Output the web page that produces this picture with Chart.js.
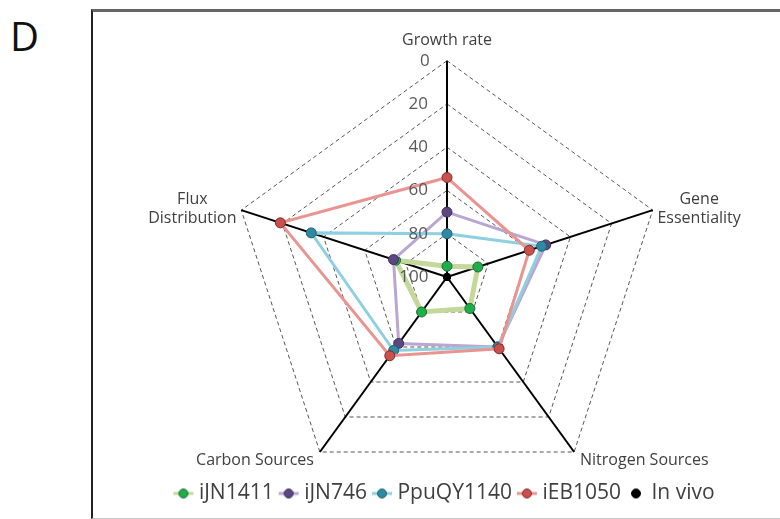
<!DOCTYPE html>
<html>
<head>
<meta charset="utf-8">
<script src="https://cdn.jsdelivr.net/npm/chart.js@4"></script>
<style>
  body { margin: 0; background: #fff; }
  #wrap { position: relative; width: 780px; height: 519px; overflow: hidden; }
  #frame { position: absolute; left: 91px; top: 9px; width: 720px; height: 506px;
           border-left: 2px solid #222; border-top: 3px solid #666; border-bottom: 1px solid #c8c8c8; }
  #panel { position: absolute; left: 10px; top: 8px; font: 40px "Open Sans", sans-serif; color: #111; }
  canvas { position: absolute; left: 0; top: 0; }
</style>
</head>
<body>
<div id="wrap">
  <div id="frame"></div>
  <div id="panel">D</div>
  <canvas id="radar" width="780" height="519"></canvas>
</div>
<script>
// axes of the radar (clockwise from top)
const categories = ["Growth rate", ["Gene", "Essentiality"], "Nitrogen Sources", "Carbon Sources", ["Flux", "Distribution"]];
const tickValues = [0, 20, 40, 60, 80, 100];

// model scores (scale is reversed: 100 sits in the centre)
const iJN1411 = [95, 85, 82, 80, 75];
const iJN746 = [70, 52, 60, 62, 74];
const PpuQY1140 = [80, 54, 60, 58, 34];
const iEB1050 = [54, 60, 59, 55, 19];
const inVivo = [100, 100, 100, 100, 100];

// little legend icons: a short line with a dot on it
function legendIcon(lineColor, fill, stroke) {
    let c = document.createElement("canvas");
    c.width = 28; c.height = 12;
    let g = c.getContext("2d");
    if (lineColor) {
        g.strokeStyle = lineColor; g.lineWidth = 3;
        g.beginPath(); g.moveTo(5, 6); g.lineTo(25, 6); g.stroke();
    }
    g.fillStyle = fill; g.strokeStyle = stroke; g.lineWidth = 1;
    g.beginPath(); g.arc(15, 6, 4.5, 0, Math.PI * 2); g.fill(); g.stroke();
    return c;
}

function series(label, data, line, fill, stroke, width, order) {
    return {
        label: label,
        data: data,
        borderColor: line,
        borderWidth: width,
        backgroundColor: "transparent",
        fill: false,
        pointBackgroundColor: fill,
        pointBorderColor: stroke,
        pointBorderWidth: 1,
        pointRadius: 5,
        pointHoverRadius: 5,
        order: order,
        icon: legendIcon(line, fill, stroke)
    };
}

const datasets = [
    series("iJN1411", iJN1411, "#c4d89a", "#1fae4a", "#1d6b33", 5, 5),
    series("iJN746", iJN746, "#b9a7d2", "#5e4780", "#3d2d57", 3, 4),
    series("PpuQY1140", PpuQY1140, "#8fd0e0", "#2e8aa3", "#1f5f70", 3, 3),
    series("iEB1050", iEB1050, "#ea9491", "#c9504c", "#7f2a28", 3, 2),
    {
        label: "In vivo",
        data: inVivo,
        showLine: false,
        pointBackgroundColor: "#000",
        pointBorderColor: "#000",
        pointRadius: 3.5,
        order: 1,
        icon: legendIcon(null, "#000", "#000")
    }
];

const ctx = document.getElementById("radar").getContext("2d");
new Chart(ctx, {
    type: "radar",
    data: { labels: categories, datasets: datasets },
    options: {
        responsive: false,
        animation: false,
        layout: { padding: { left: 111, right: 0, top: 10, bottom: 5 } },
        plugins: {
            tooltip: { enabled: false },
            legend: {
                position: "bottom",
                labels: {
                    usePointStyle: true,
                    pointStyleWidth: 12,
                    padding: 8,
                    color: "#404040",
                    font: { family: "Open Sans", size: 21 },
                    generateLabels: (chart) => chart.data.datasets.map((ds, i) => ({
                        text: ds.label,
                        pointStyle: ds.icon,
                        fillStyle: "transparent",
                        strokeStyle: "transparent",
                        lineWidth: 0,
                        fontColor: "#404040",
                        hidden: false,
                        datasetIndex: i
                    }))
                }
            }
        },
        scales: {
            r: {
                min: 0,
                max: 100,
                reverse: true,
                // the web runs down behind the legend row, like the original
                afterSetDimensions: (s) => {
                    const extra = 44;
                    s.bottom += extra;
                    s.height += extra;
                    s.yCenter = Math.floor(s.top + s.height / 2 + s._padding.top);
                    s.drawingArea = Math.floor(Math.min(s.width, s.height) / 2);
                },
                // put the category labels right at the spoke ends
                afterFit: (s) => {
                    (s._pointLabelItems || []).forEach((it, i) => {
                        const w = it.right - it.left, h = it.bottom - it.top;
                        const lower = Math.cos(s.getIndexAngle(i)) < 0;
                        const gap = it.textAlign === "center" ? 11 : (lower ? 10 : 5);
                        const p = s.getPointPosition(i, s.drawingArea + gap);
                        if (it.textAlign === "center") {
                            it.x = p.x;
                            it.left = p.x - w / 2;
                            it.top = p.y - h;
                        } else {
                            it.left = p.x > s.xCenter ? p.x : p.x - w;
                            it.top = p.y - h / 2;
                            if (Array.isArray(categories[i])) {
                                it.textAlign = "center";
                                it.x = it.left + w / 2;
                            } else {
                                it.x = p.x;
                            }
                        }
                        it.right = it.left + w;
                        it.bottom = it.top + h;
                        it.y = it.top;
                    });
                },
                afterBuildTicks: (s) => { s.ticks = tickValues.slice().reverse().map(v => ({ value: v })); },
                ticks: {
                    color: "#595959",
                    font: { family: "Open Sans", size: 17 },
                    showLabelBackdrop: false,
                    z: 1,
                    // pad with spaces so the centred label sits left of the axis
                    callback: (v) => String(v) + " ".repeat(8 + Math.round(2.3 * String(v).length))
                },
                grid: { color: "#555", lineWidth: 1 },
                border: { dash: [4, 3] },
                angleLines: { color: "#000", lineWidth: 2 },
                pointLabels: {
                    color: "#404040",
                    padding: 8,
                    font: { family: "Open Sans", size: 16 }
                }
            }
        }
    }
});
</script>
</body>
</html>
